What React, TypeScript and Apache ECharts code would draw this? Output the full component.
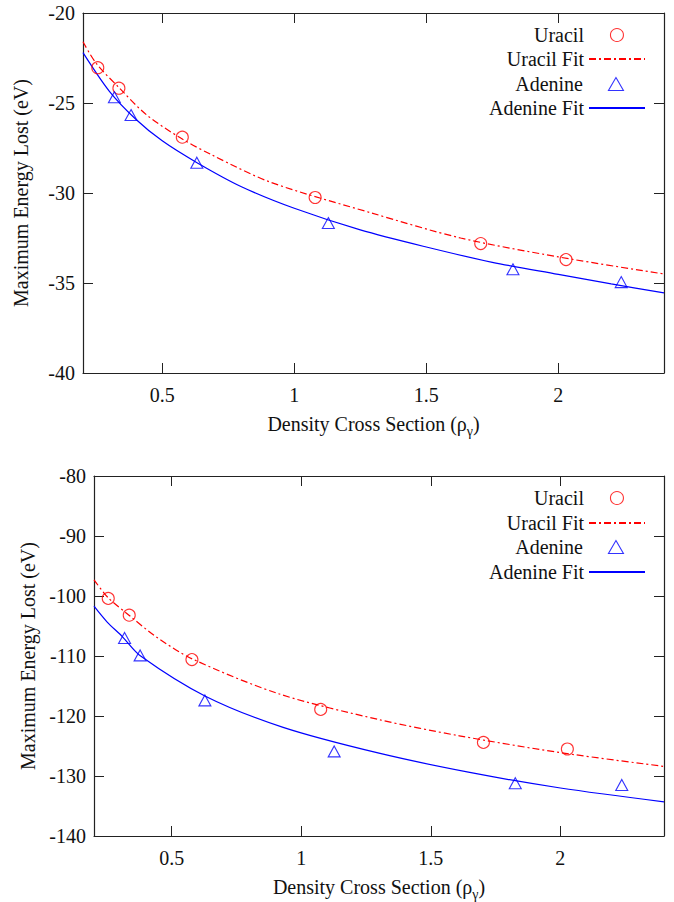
import React, { useEffect, useRef } from 'react';
import * as echarts from 'echarts';

// ---- data ----
const xTicks = [0.5, 1, 1.5, 2];
const topYTicks = { min: -40, max: -20, interval: 5 };
const botYTicks = { min: -140, max: -80, interval: 10 };

const topUracil = [[0.256, -23.04], [0.336, -24.18], [0.576, -26.9], [1.079, -30.25], [1.706, -32.81], [2.029, -33.7]];
const topAdenine = [[0.319, -24.68], [0.382, -25.67], [0.631, -28.32], [1.129, -31.67], [1.828, -34.24], [2.238, -34.95]];
const topUracilFit = [[0.2, -21.6], [0.25, -22.8], [0.34, -24.2], [0.44, -25.65], [0.57, -26.95], [0.69, -27.9], [0.91, -29.4], [1.29, -31.1], [1.63, -32.5], [2.0, -33.55], [2.4, -34.5]];
const topAdenineFit = [[0.2, -22.2], [0.3, -24.35], [0.4, -25.9], [0.5, -27.1], [0.63, -28.3], [0.8, -29.65], [1.0, -30.85], [1.25, -32.05], [1.5, -33.0], [1.75, -33.85], [2.0, -34.52], [2.2, -35.05], [2.4, -35.55]];

const botUracil = [[0.255, -100.4], [0.336, -103.2], [0.578, -110.6], [1.075, -118.9], [1.703, -124.4], [2.027, -125.5]];
const botAdenine = [[0.318, -107.0], [0.378, -109.9], [0.628, -117.4], [1.127, -125.9], [1.826, -131.2], [2.237, -131.5]];
const botUracilFit = [[0.2, -97.3], [0.255, -100.3], [0.335, -103.2], [0.44, -106.8], [0.58, -110.5], [0.92, -116.4], [1.3, -120.6], [1.61, -123.3], [2.0, -126.1], [2.4, -128.4]];
const botAdenineFit = [[0.2, -101.7], [0.25, -104.3], [0.31, -106.8], [0.38, -110.0], [0.63, -116.7], [0.93, -121.9], [1.3, -126.2], [1.65, -129.4], [2.0, -132.0], [2.4, -134.3]];

const names = ['Uracil', 'Uracil Fit', 'Adenine', 'Adenine Fit'];
const xTitle = 'Density Cross Section (ρ';
const xTitleSub = 'γ';
const yTitle = 'Maximum Energy Lost (eV)';

const FONT = 'Liberation Serif';
const RED = '#ff0000';
const BLUE = '#0000ff';
const INK = '#111111';
const FRAME = '#222222';
const TRIANGLE_ICON = 'path://M6,0 L12,10.4 L0,10.4 Z';

function xAxis(gridIndex: number, position: 'top' | 'bottom', labels: boolean) {
  return {
    type: 'value',
    gridIndex,
    position,
    min: 0.2,
    max: 2.4,
    axisLine: { show: true, onZero: false, lineStyle: { color: FRAME, width: 1.2 } },
    axisTick: { show: true, inside: true, length: 10, customValues: xTicks, lineStyle: { color: FRAME, width: 1 } },
    axisLabel: { show: labels, customValues: xTicks, margin: 12, fontFamily: FONT, fontSize: 20, color: INK },
    splitLine: { show: false },
    name: labels ? `{a|${xTitle}}{s|${xTitleSub}}{a|)}` : '',
    nameLocation: 'middle',
    nameGap: 37,
    nameTextStyle: {
      fontFamily: FONT,
      color: INK,
      rich: {
        a: { fontFamily: FONT, fontSize: 20, color: INK, lineHeight: 24, verticalAlign: 'bottom' },
        s: { fontFamily: FONT, fontSize: 14, color: INK, lineHeight: 14, verticalAlign: 'bottom', padding: [0, 0, -4, 0] },
      },
    },
  };
}

function yAxis(gridIndex: number, position: 'left' | 'right', labels: boolean, t: { min: number; max: number; interval: number }) {
  return {
    type: 'value',
    gridIndex,
    position,
    min: t.min,
    max: t.max,
    interval: t.interval,
    axisLine: { show: true, onZero: false, lineStyle: { color: FRAME, width: 1.2 } },
    axisTick: { show: true, inside: true, length: 10, lineStyle: { color: FRAME, width: 1 } },
    axisLabel: { show: labels, margin: 8, fontFamily: FONT, fontSize: 20, color: INK },
    splitLine: { show: false },
    name: labels ? yTitle : '',
    nameLocation: 'middle',
    nameGap: 52,
    nameRotate: 90,
    nameTextStyle: { fontFamily: FONT, fontSize: 20, color: INK },
  };
}

function fitSeries(name: string, data: number[][], idx: number, color: string, dashed: boolean) {
  return {
    type: 'line',
    name,
    xAxisIndex: idx,
    yAxisIndex: idx,
    data,
    smooth: 0.3,
    symbol: 'none',
    showSymbol: false,
    lineStyle: { color, width: 1.2, type: dashed ? [7, 3, 2, 3] : 'solid' },
    itemStyle: { color },
    z: 2,
  };
}

function pointSeries(name: string, data: number[][], idx: number, color: string, symbol: string) {
  return {
    type: 'scatter',
    name,
    xAxisIndex: idx,
    yAxisIndex: idx,
    data,
    symbol,
    symbolSize: symbol === 'triangle' ? [12, 11] : 12,
    itemStyle: { color: 'rgba(0,0,0,0)', borderColor: color, borderWidth: 1.1 },
    z: 3,
  };
}

function legends(rowTops: number[]) {
  const colors: Record<string, string> = { Uracil: RED, Adenine: BLUE };
  return names.map((n, i) => {
    const isFit = n.endsWith('Fit');
    const item: any = { name: n };
    if (n === 'Adenine') item.icon = TRIANGLE_ICON;
    if (n === 'Uracil') item.icon = 'circle';
    return {
      data: [item],
      right: isFit ? 28 : 50,
      top: rowTops[i],
      orient: 'vertical',
      align: 'right',
      padding: 0,
      itemWidth: 56,
      itemHeight: 13,
      symbolKeepAspect: true,
      selectedMode: false,
      itemStyle: isFit
        ? { color: 'rgba(0,0,0,0)', borderColor: 'rgba(0,0,0,0)', borderWidth: 0 }
        : { color: 'rgba(0,0,0,0)', borderColor: colors[n], borderWidth: 1.1 },
      textStyle: { fontFamily: FONT, fontSize: 20, color: INK, lineHeight: 20 },
    };
  });
}

export default function App() {
  const ref = useRef<HTMLDivElement>(null);
  useEffect(() => {
    if (!ref.current) return;
    const chart = echarts.init(ref.current, undefined, { renderer: 'svg' });
    chart.setOption({
      animation: false,
      backgroundColor: '#ffffff',
      grid: [
        { left: 83, top: 13, width: 581, height: 360 },
        { left: 94, top: 476, width: 570, height: 360 },
      ],
      xAxis: [xAxis(0, 'bottom', true), xAxis(0, 'top', false), xAxis(1, 'bottom', true), xAxis(1, 'top', false)],
      yAxis: [
        yAxis(0, 'left', true, topYTicks),
        yAxis(0, 'right', false, topYTicks),
        yAxis(1, 'left', true, botYTicks),
        yAxis(1, 'right', false, botYTicks),
      ],
      legend: [...legends([25, 49, 74, 98]), ...legends([488, 513, 537, 562])],
      series: [
        fitSeries('Uracil Fit', topUracilFit, 0, RED, true),
        fitSeries('Adenine Fit', topAdenineFit, 0, BLUE, false),
        pointSeries('Uracil', topUracil, 0, RED, 'circle'),
        pointSeries('Adenine', topAdenine, 0, BLUE, 'triangle'),
        fitSeries('Uracil Fit', botUracilFit, 2, RED, true),
        fitSeries('Adenine Fit', botAdenineFit, 2, BLUE, false),
        pointSeries('Uracil', botUracil, 2, RED, 'circle'),
        pointSeries('Adenine', botAdenine, 2, BLUE, 'triangle'),
      ],
    });
    return () => chart.dispose();
  }, []);
  return <div ref={ref} style={{ position: 'absolute', left: 0, top: 0, width: 674, height: 902 }} />;
}
